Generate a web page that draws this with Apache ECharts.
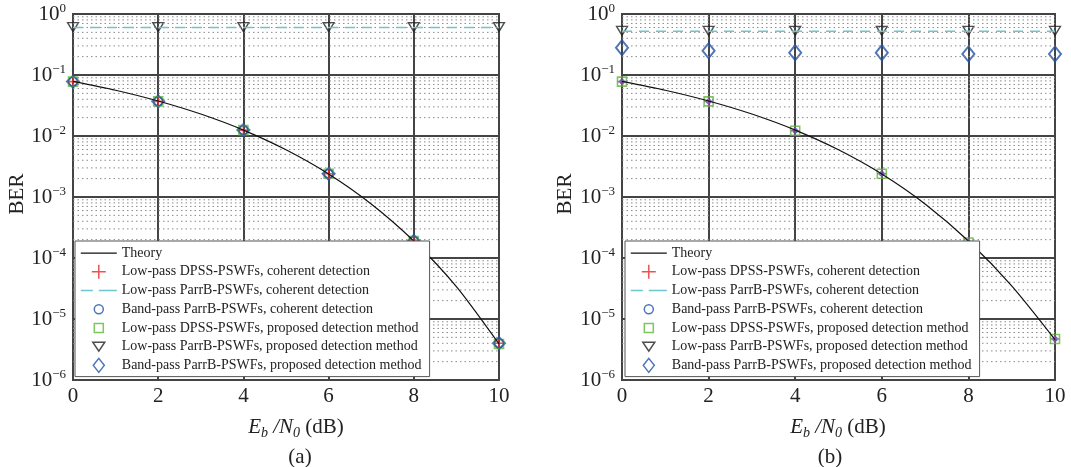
<!DOCTYPE html>
<html>
<head>
<meta charset="utf-8">
<script src="https://cdn.jsdelivr.net/npm/echarts@6/dist/echarts.min.js"></script>
<style>
  html, body { margin: 0; padding: 0; background: #fff; }
  #chart { width: 1071px; height: 467px; }
</style>
</head>
<body>
<div id="chart"></div>
<script>
// Eb/N0 points (dB)
const snr = [0, 2, 4, 6, 8, 10];
const theoryX = [0, 1, 2, 3, 4, 5, 6, 7, 8, 9, 10];
const theoryA = [0.0786, 0.0563, 0.0375, 0.0229, 0.0125, 0.00595, 0.00239, 0.00077, 0.00019, 3.4e-5, 3.9e-6];
const theoryB = [0.0786, 0.0563, 0.0375, 0.0229, 0.0125, 0.00595, 0.00239, 0.00077, 0.00019, 3.5e-5, 4.6e-6];

// (a)
const a_dpssCoh = [0.078, 0.037, 0.0125, 0.0024, 1.9e-4, 4.0e-6];
const a_parrLpCoh = [0.6, 0.6, 0.6, 0.6, 0.6, 0.6];
const a_parrBpCoh = [0.078, 0.037, 0.0125, 0.0024, 1.9e-4, 4.0e-6];
const a_dpssProp = [0.078, 0.037, 0.0125, 0.0024, 1.9e-4, 3.9e-6];
const a_parrLpProp = [0.61, 0.61, 0.61, 0.61, 0.61, 0.61];
const a_parrBpProp = [0.078, 0.037, 0.0125, 0.0024, 1.9e-4, 4.0e-6];

// (b)
const b_dpssCoh = [0.078, 0.037, 0.0122, 0.0024, 1.8e-4, 4.7e-6];
const b_parrLpCoh = [0.52, 0.52, 0.52, 0.52, 0.52, 0.52];
const b_parrBpCoh = [0.078, 0.037, 0.0122, 0.0024, 1.8e-4, 4.7e-6];
const b_dpssProp = [0.078, 0.037, 0.0122, 0.0024, 1.8e-4, 4.7e-6];
const b_parrLpProp = [0.53, 0.53, 0.53, 0.53, 0.53, 0.53];
const b_parrBpProp = [0.28, 0.25, 0.232, 0.232, 0.221, 0.221];

const names = [
  'Theory',
  'Low-pass DPSS-PSWFs, coherent detection',
  'Low-pass ParrB-PSWFs, coherent detection',
  'Band-pass ParrB-PSWFs, coherent detection',
  'Low-pass DPSS-PSWFs, proposed detection method',
  'Low-pass ParrB-PSWFs, proposed detection method',
  'Band-pass ParrB-PSWFs, proposed detection method'
];
const minorMult = [2, 3, 4, 5, 6, 7, 8, 9];
const decades = [1e-6, 1e-5, 1e-4, 1e-3, 1e-2, 1e-1];

const FONT = '"Liberation Serif", "DejaVu Serif", serif';
const C = { theory: '#111', red: '#e82525', cyan: '#6cc6cc', blue: '#2152a8', green: '#5cb83a', black: '#222' };
const plusPath = 'path://M5,0 L5,10 M0,5 L10,5';
const triPath = 'path://M0,0 L10,0 L5,8.6 Z';

// legend icons, drawn in a padded box so they keep their size
const lg = {
  line: 'path://M0,0 M36,15 M0,7.5 L36,7.5',
  dash: 'path://M0,0 M36,15 M0,7.5 L12,7.5 M18,7.5 L36,7.5',
  plus: 'path://M0,0 M15,15 M7.5,0.5 L7.5,14.5 M0.5,7.5 L14.5,7.5',
  circle: 'path://M0,0 M15,15 M3,7.5 A4.5,4.5 0 1,1 12,7.5 A4.5,4.5 0 1,1 3,7.5 Z',
  rect: 'path://M0,0 M15,15 M3,3 L12,3 L12,12 L3,12 Z',
  tri: 'path://M0,0 M15,15 M1.5,3 L13.5,3 L7.5,12 Z',
  dia: 'path://M0,0 M15,15 M7.5,0.5 L13,7.5 L7.5,14.5 L2,7.5 Z'
};

const pair = (xs, ys) => xs.map((x, i) => [x, ys[i]]);

// minor dotted grid as broken line segments across the x range
function minorGrid() {
  const pts = [];
  decades.forEach(dec => minorMult.forEach(m => {
    pts.push([0, dec * m], [10, dec * m], [10, '-']);
  }));
  return pts;
}

function buildSeries(gi, d) {
  const hollow = (c, w) => ({ color: 'transparent', borderColor: c, borderWidth: w || 1.4 });
  return [
    {
      type: 'line', xAxisIndex: gi, yAxisIndex: gi, data: minorGrid(), silent: true,
      symbol: 'none', connectNulls: false,
      lineStyle: { color: '#8a8a8a', type: [1.5, 3], width: 1 }
    },
    {
      name: names[0], type: 'line', xAxisIndex: gi, yAxisIndex: gi,
      data: pair(theoryX, d.theory), symbol: 'none', smooth: 0.25,
      lineStyle: { color: C.theory, width: 1.2 }, itemStyle: { color: C.theory }
    },
    {
      name: names[2], type: 'line', xAxisIndex: gi, yAxisIndex: gi,
      data: pair(snr, d.parrLpCoh), symbol: 'none',
      lineStyle: { color: C.cyan, width: 1.5, type: [10, 7] }, itemStyle: { color: C.cyan }
    },
    {
      name: names[5], type: 'scatter', xAxisIndex: gi, yAxisIndex: gi, clip: false,
      data: pair(snr, d.parrLpProp), symbol: triPath, symbolSize: [11, 9],
      itemStyle: hollow(C.black, 1.3)
    },
    {
      name: names[6], type: 'scatter', xAxisIndex: gi, yAxisIndex: gi, clip: false,
      data: pair(snr, d.parrBpProp), symbol: 'diamond', symbolSize: d.diaSize,
      itemStyle: hollow(C.blue, 2)
    },
    {
      name: names[4], type: 'scatter', xAxisIndex: gi, yAxisIndex: gi, clip: false,
      data: pair(snr, d.dpssProp), symbol: 'rect', symbolSize: 9,
      itemStyle: hollow(C.green, 1.6)
    },
    {
      name: names[3], type: 'scatter', xAxisIndex: gi, yAxisIndex: gi, clip: false,
      data: pair(snr, d.parrBpCoh), symbol: 'circle', symbolSize: d.circSize,
      itemStyle: hollow(C.blue, 1.4)
    },
    {
      name: names[1], type: 'scatter', xAxisIndex: gi, yAxisIndex: gi, clip: false,
      data: pair(snr, d.dpssCoh), symbol: plusPath, symbolSize: 9,
      itemStyle: { color: 'transparent', borderColor: d.plusColor, borderWidth: 1.6 }
    }
  ];
}

function yLabel(v) {
  const e = Math.round(Math.log10(v));
  return '{b|10}{s|' + (e === 0 ? '0' : '\u2212' + (-e)) + '}';
}

function makeX(gi) {
  return {
    type: 'value', gridIndex: gi, min: 0, max: 10, interval: 2,
    axisLine: { show: true, lineStyle: { color: '#444', width: 2 } },
    axisTick: { show: false },
    axisLabel: { color: '#222', fontFamily: FONT, fontSize: 21, margin: 6 },
    splitLine: { show: true, lineStyle: { color: '#444', width: 2 } }
  };
}
function makeY(gi) {
  return {
    type: 'log', logBase: 10, gridIndex: gi, min: 1e-6, max: 1, interval: 1,
    axisLine: { show: true, lineStyle: { color: '#444', width: 2 } },
    axisTick: { show: false },
    axisLabel: {
      formatter: yLabel, margin: 7,
      rich: {
        b: { fontFamily: FONT, fontSize: 21, color: '#222', lineHeight: 24 },
        s: { fontFamily: FONT, fontSize: 13, color: '#222', verticalAlign: 'top', lineHeight: 24, padding: [0, 0, 10, 0] }
      }
    },
    splitLine: { show: true, lineStyle: { color: '#444', width: 2 } }
  };
}
function makeLegend(left) {
  const hollow = (c, w) => ({ color: 'transparent', borderColor: c, borderWidth: w });
  return {
    left: left, top: 241, orient: 'vertical', selectedMode: false,
    data: [
      { name: names[0], icon: lg.line, itemStyle: hollow(C.theory, 1.3) },
      { name: names[1], icon: lg.plus, itemStyle: hollow(C.red, 1.5) },
      { name: names[2], icon: lg.dash, itemStyle: hollow(C.cyan, 1.6) },
      { name: names[3], icon: lg.circle, itemStyle: hollow(C.blue, 1.5) },
      { name: names[4], icon: lg.rect, itemStyle: hollow(C.green, 1.5) },
      { name: names[5], icon: lg.tri, itemStyle: hollow(C.black, 1.5) },
      { name: names[6], icon: lg.dia, itemStyle: hollow(C.blue, 1.5) }
    ],
    symbolKeepAspect: true,
    backgroundColor: '#fff', borderColor: '#555', borderWidth: 1, borderRadius: 0,
    padding: [4, 8, 3, 5], itemWidth: 36, itemHeight: 15, itemGap: 2.2,
    textStyle: { fontFamily: FONT, fontSize: 14, lineHeight: 15, color: '#222' }
  };
}
const axisTitle = (cx, cy) => ({
  type: 'text', x: cx, y: cy,
  style: {
    text: '{i|E}{sb|b}{i| /N}{sb|0}{r| (dB)}',
    align: 'center', verticalAlign: 'middle',
    rich: {
      i: { fontFamily: FONT, fontStyle: 'italic', fontSize: 21, fill: '#222' },
      sb: { fontFamily: FONT, fontStyle: 'italic', fontSize: 14, fill: '#222', padding: [12, 0, 0, 0] },
      r: { fontFamily: FONT, fontSize: 21, fill: '#222' }
    }
  }
});
const plainText = (cx, cy, t, rot) => ({
  type: 'text', x: cx, y: cy, rotation: rot || 0,
  style: { text: t, fontFamily: FONT, fontSize: 21, fill: '#222', align: 'center', verticalAlign: 'middle' }
});

const chart = echarts.init(document.getElementById('chart'), null, { renderer: 'canvas' });
chart.setOption({
  animation: false,
  backgroundColor: '#fff',
  grid: [
    { left: 73, top: 14, width: 426, height: 366, show: true, borderColor: '#444', borderWidth: 2 },
    { left: 622, top: 14, width: 433, height: 366, show: true, borderColor: '#444', borderWidth: 2 }
  ],
  xAxis: [makeX(0), makeX(1)],
  yAxis: [makeY(0), makeY(1)],
  legend: [makeLegend(75), makeLegend(625)],
  series: buildSeries(0, {
    theory: theoryA, dpssCoh: a_dpssCoh, parrLpCoh: a_parrLpCoh, parrBpCoh: a_parrBpCoh,
    dpssProp: a_dpssProp, parrLpProp: a_parrLpProp, parrBpProp: a_parrBpProp,
    diaSize: 12, circSize: 9, plusColor: C.red
  }).concat(buildSeries(1, {
    theory: theoryB, dpssCoh: b_dpssCoh, parrLpCoh: b_parrLpCoh, parrBpCoh: b_parrBpCoh,
    dpssProp: b_dpssProp, parrLpProp: b_parrLpProp, parrBpProp: b_parrBpProp,
    diaSize: [12, 15], circSize: 4, plusColor: '#a848a8'
  })),
  graphic: [
    plainText(17, 194, 'BER', Math.PI / 2),
    plainText(565, 194, 'BER', Math.PI / 2),
    axisTitle(296, 427),
    axisTitle(838, 427),
    plainText(300, 457, '(a)'),
    plainText(830, 457, '(b)')
  ]
});
</script>
</body>
</html>
